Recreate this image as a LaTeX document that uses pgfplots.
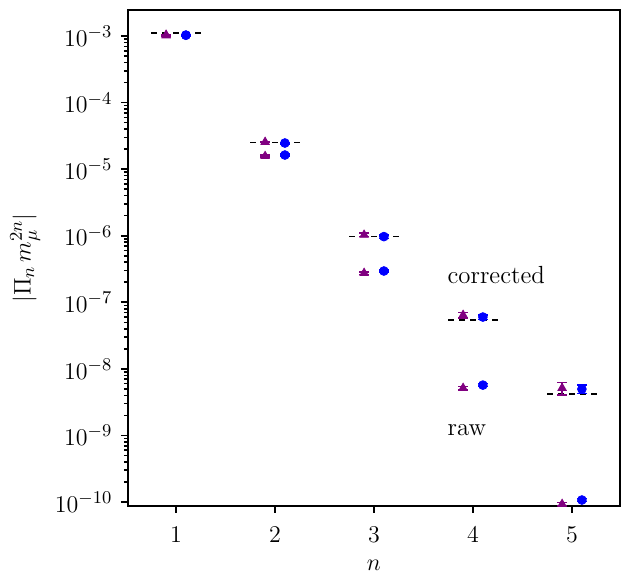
\documentclass[border=0pt]{standalone}
\usepackage{pgfplots}
\pgfplotsset{compat=1.18}
\definecolor{mplpurple}{HTML}{800080}
\definecolor{mplblue}{HTML}{0000FF}

\pgfplotstableread{
x    y        e
0.9  1.04e-3  2.0e-5
1.9  2.56e-5  6.0e-7
2.9  1.03e-6  6.0e-8
3.9  6.44e-8  6.0e-9
4.9  5.15e-9  1.1e-9
}\corrtri
\pgfplotstableread{
x    y        e
1.1  1.03e-3  2.0e-5
2.1  2.47e-5  6.0e-7
3.1  9.70e-7  6.0e-8
4.1  6.00e-8  5.0e-9
5.1  4.97e-9  7.0e-10
}\corrcirc
\pgfplotstableread{
x    y        e
0.9  1.02e-3  2.0e-5
1.9  1.57e-5  5.0e-7
2.9  2.75e-7  1.2e-8
3.9  5.15e-9  3.0e-10
4.9  9.30e-11 5.0e-12
}\rawtri
\pgfplotstableread{
x    y        e
1.1  1.03e-3  2.0e-5
2.1  1.63e-5  5.0e-7
3.1  2.95e-7  1.2e-8
4.1  5.70e-9  3.0e-10
5.1  1.07e-10 6.0e-12
}\rawcirc

\pgfplotsset{
  errstyle/.style={
    error bars/.cd, y dir=both, y explicit,
    error bar style={line width=0.8pt},
    error mark options={rotate=90, mark size=2.4pt, line width=0.8pt},
  },
  refline/.style={black, line width=0.75pt, dash pattern=on 2.75pt off 2.75pt},
}

\begin{document}
\fontsize{12.4}{15}\selectfont
\begin{tikzpicture}
\begin{axis}[
  scale only axis,
  width=246pt, height=248pt,
  ymode=log,
  xmin=0.515, xmax=5.485,
  ymin=8.7e-11, ymax=2.46e-3,
  xtick={1,2,3,4,5},
  ytick={1e-10,1e-9,1e-8,1e-7,1e-6,1e-5,1e-4,1e-3},
  tick pos=left,
  tick align=outside,
  major tick length=3.5pt,
  minor tick length=2pt,
  axis line style={line width=0.8pt},
  every tick/.style={black, line width=0.8pt},
  xticklabel style={yshift=-2.5pt},
  xlabel={$n$},
  ylabel={$|\Pi_n\, m_\mu^{2n}|$},
  xlabel style={at={(axis description cs:0.5,-0.119)}, anchor=center},
  ylabel style={at={(axis description cs:-0.209,0.5)}, anchor=center},
  clip marker paths=true,
]
% reference values
\addplot[refline] coordinates {(0.75,1.11e-3) (1.25,1.11e-3)};
\addplot[refline] coordinates {(1.75,2.52e-5) (2.25,2.52e-5)};
\addplot[refline] coordinates {(2.75,9.7e-7) (3.25,9.7e-7)};
\addplot[refline] coordinates {(3.75,5.42e-8) (4.25,5.42e-8)};
\addplot[refline] coordinates {(4.75,4.18e-9) (5.25,4.18e-9)};

% corrected
\addplot[only marks, mark=triangle*, mark size=2.4pt, mplpurple, errstyle]
  table[x=x, y=y, y error=e] {\corrtri};
\addplot[only marks, mark=*, mark size=2.2pt, mplblue, errstyle]
  table[x=x, y=y, y error=e] {\corrcirc};
% raw
\addplot[only marks, mark=triangle*, mark size=2.4pt, mplpurple, errstyle]
  table[x=x, y=y, y error=e] {\rawtri};
\addplot[only marks, mark=*, mark size=2.2pt, mplblue, errstyle]
  table[x=x, y=y, y error=e] {\rawcirc};

\node[anchor=west, inner sep=0pt] at (axis cs:3.74,2.57e-7) {corrected};
\node[anchor=west, inner sep=0pt] at (axis cs:3.74,1.21e-9) {raw};
\end{axis}
\pgfresetboundingbox
\useasboundingbox ([xshift=-64pt, yshift=-34pt]current axis.south west)
  rectangle ([xshift=4pt, yshift=5pt]current axis.north east);
\end{tikzpicture}
\end{document}
